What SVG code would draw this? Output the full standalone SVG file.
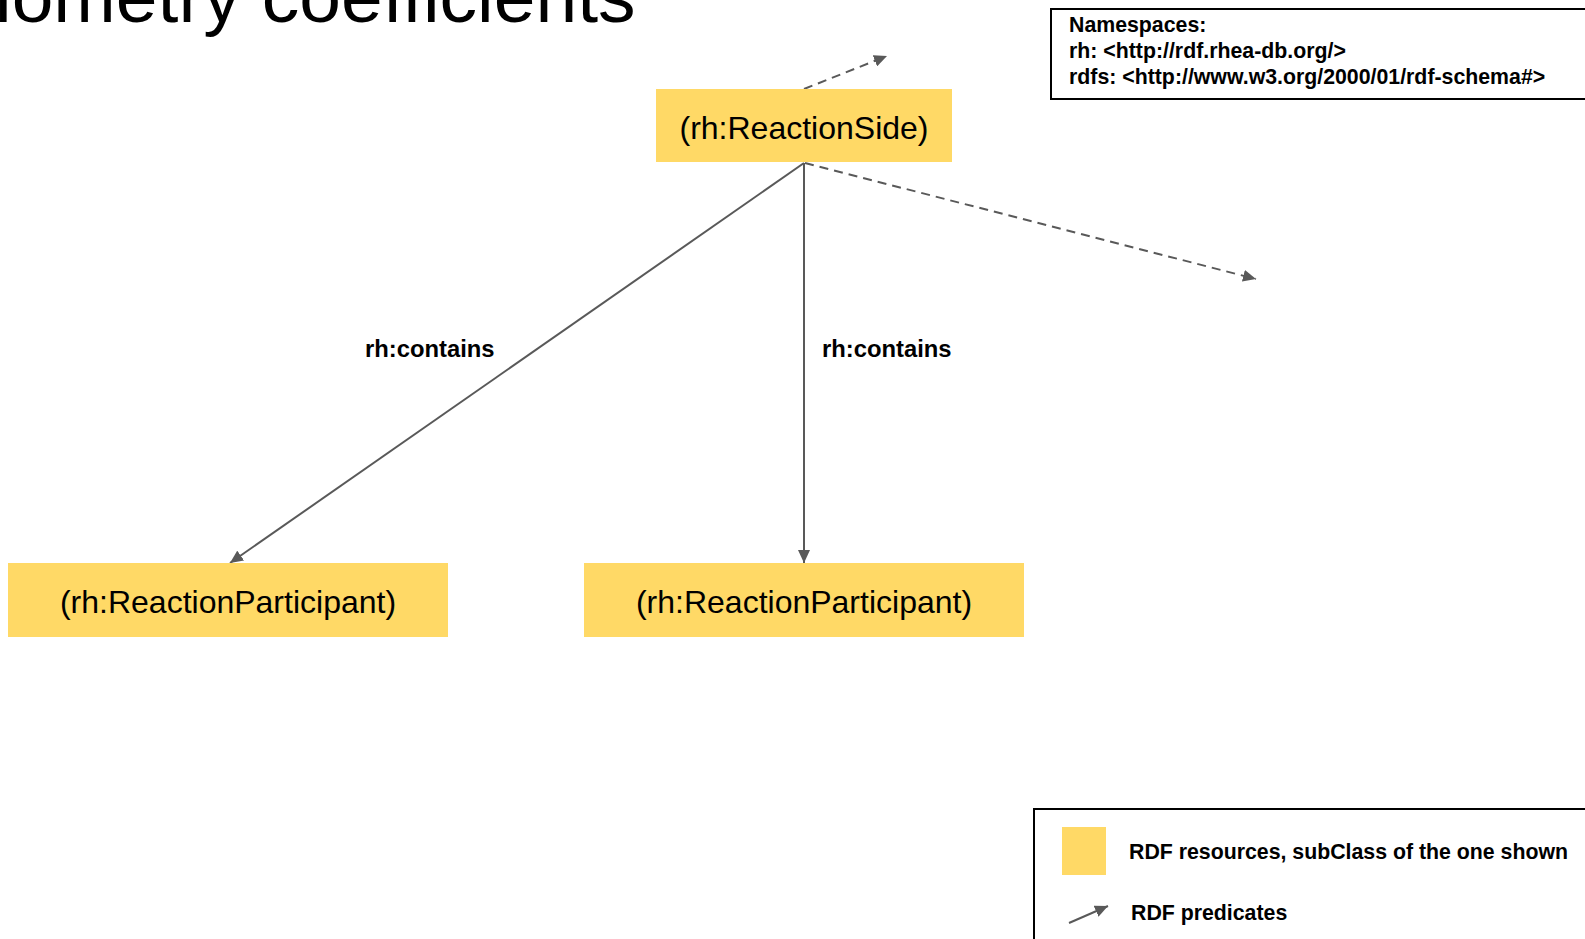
<svg xmlns="http://www.w3.org/2000/svg" width="1585" height="939" viewBox="0 0 1585 939">
  <style>
    .res { fill: #FFD966; }
    .res-label { font-family: "Liberation Sans", Arial, sans-serif; font-size: 32px; fill: #000; text-anchor: middle; }
    .edge { fill: none; stroke: #595959; stroke-width: 2; }
    .dashed { stroke-dasharray: 9 6; }
    .edge-label { font-family: "Liberation Sans", Arial, sans-serif; font-size: 23.8px; font-weight: bold; fill: #000; }
    .box { fill: #fff; stroke: #000; stroke-width: 2; }
    .small { font-family: "Liberation Sans", Arial, sans-serif; font-size: 21.3px; font-weight: bold; fill: #000; }
    .title { font-family: "Liberation Sans", Arial, sans-serif; font-size: 75px; fill: #000; }
  </style>
  <defs>
    <marker id="arrow" markerUnits="userSpaceOnUse" markerWidth="14" markerHeight="12" refX="13" refY="6" orient="auto">
      <path d="M0,0 L13,6 L0,12 z" fill="#595959"/>
    </marker>
  </defs>

  <rect width="1585" height="939" fill="#fff"/>

  <!-- slide title, running off the top-left corner -->
  <text class="title" x="-5" y="22">iometry coefficients</text>

  <!-- namespace box -->
  <g id="namespaces">
    <rect class="box" x="1051" y="9" width="545" height="90"/>
    <text class="small" x="1069" y="32">Namespaces:</text>
    <text class="small" x="1069" y="58">rh: &lt;http://rdf.rhea-db.org/&gt;</text>
    <text class="small" x="1069" y="84">rdfs: &lt;http://www.w3.org/2000/01/rdf-schema#&gt;</text>
  </g>

  <!-- connectors -->
  <g id="connectors">
    <line class="edge dashed" x1="804" y1="89" x2="887" y2="56" marker-end="url(#arrow)"/>
    <line class="edge dashed" x1="805" y1="163" x2="1256" y2="279" marker-end="url(#arrow)"/>
    <line class="edge" x1="804" y1="163" x2="230" y2="563" marker-end="url(#arrow)"/>
    <line class="edge" x1="804" y1="163" x2="804" y2="563" marker-end="url(#arrow)"/>
    <text class="edge-label" x="365" y="357">rh:contains</text>
    <text class="edge-label" x="822" y="357">rh:contains</text>
  </g>

  <!-- nodes -->
  <g id="reaction-side">
    <rect class="res" x="656" y="89" width="296" height="73"/>
    <text class="res-label" x="804" y="138.5">(rh:ReactionSide)</text>
  </g>
  <g id="participant-left">
    <rect class="res" x="8" y="563" width="440" height="74"/>
    <text class="res-label" x="228" y="613">(rh:ReactionParticipant)</text>
  </g>
  <g id="participant-right">
    <rect class="res" x="584" y="563" width="440" height="74"/>
    <text class="res-label" x="804" y="613">(rh:ReactionParticipant)</text>
  </g>

  <!-- legend -->
  <g id="legend">
    <rect class="box" x="1034" y="809" width="600" height="160"/>
    <rect class="res" x="1062" y="827" width="44" height="48"/>
    <text class="small" x="1129" y="859">RDF resources, subClass of the one shown</text>
    <line class="edge" x1="1069" y1="923" x2="1108" y2="906" marker-end="url(#arrow)"/>
    <text class="small" x="1131" y="920">RDF predicates</text>
  </g>
</svg>
